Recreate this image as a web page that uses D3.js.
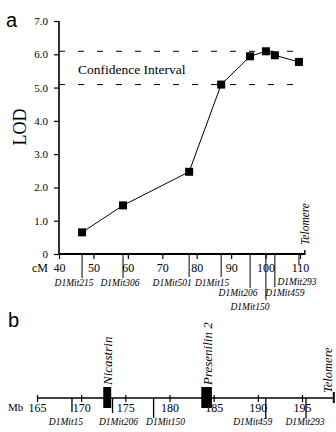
<!DOCTYPE html>
<html><head><meta charset="utf-8">
<script src="https://cdn.jsdelivr.net/npm/d3@7/dist/d3.min.js"></script>
<style>body{margin:0;background:#fff}svg{display:block}</style>
</head><body>
<script>
// ---- data ----
const lodMarkers = ["D1Mit215","D1Mit306","D1Mit501","D1Mit15","D1Mit206","D1Mit150","D1Mit459","D1Mit293"];
const lodCM = [46.7, 58.6, 77.8, 87.1, 95.5, 100.1, 102.7, 109.7];
const lodValues = [0.65, 1.46, 2.47, 5.09, 5.94, 6.09, 5.97, 5.77];
const cmTicks = [40, 50, 60, 70, 80, 90, 100, 110];
const lodTicks = [0, 1, 2, 3, 4, 5, 6, 7];
const confidenceBounds = [5.09, 6.09];
const telomereCM = 111.4;

const physMarkers = ["D1Mit15","D1Mit206","D1Mit150","D1Mit459","D1Mit293"];
const physMb = [168.96, 173.55, 178.2, 190.9, 195.45];
const genes = ["Nicastrin", "Presenilin 2"];
const geneStart = [172.5, 183.6];
const geneEnd = [173.4, 184.8];
const mbTicks = [165, 170, 175, 180, 185, 190, 195];
const telomereMb = 198.6;

// ---- layout (not data) ----
const topLabelLayout = [ // dx from line, label baseline, line end
  [-8, 286, 278], [-3, 286, 278], [-17, 286, 277], [-9, 286, 277],
  [-12, 296, 288], [-16, 310, 300], [10, 296, 287], [-2, 285, 265]
];
const botLabelLayout = [[-6, 425, 412], [6, 425, 413], [12, 425, 418], [-13, 425, 418], [-1, 425, 418]];

const serif = "'Liberation Serif', 'Times New Roman', serif";
const sans = "'Liberation Sans', Arial, sans-serif";

const svg = d3.select("body").append("svg").attr("width", 336).attr("height", 432);

// ===== Panel a =====
const x = d3.scaleLinear().domain([40, 110]).range([59, 300]);
const y = d3.scaleLinear().domain([0, 7]).range([254, 21]);

svg.append("text").attr("x", 6).attr("y", 27).attr("font-family", sans).attr("font-size", 20).text("a");

// y axis
const yAxis = d3.axisLeft(y).tickValues(lodTicks).tickSize(5).tickPadding(6)
  .tickFormat(d => d === 0 ? "0" : d3.format(".1f")(d));
const gy = svg.append("g").attr("transform", "translate(59,0)").call(yAxis);
gy.select(".domain").attr("stroke-width", 1.6).attr("d", `M0,${y(7)}V${y(0)}`);
gy.selectAll(".tick line").attr("stroke-width", 1.2);
gy.selectAll("text").attr("font-family", serif).attr("font-size", 11).attr("fill", "#000");

svg.append("text").attr("transform", `translate(26,${127}) rotate(-90)`)
  .attr("text-anchor", "middle").attr("font-family", serif).attr("font-size", 18).text("LOD");

// x axis
const xAxis = d3.axisBottom(x).tickValues(cmTicks).tickSize(5).tickPadding(4);
const gx = svg.append("g").attr("transform", `translate(0,${y(0)})`).call(xAxis);
gx.select(".domain").attr("stroke-width", 2).attr("d", `M${x(40)},0H${x(telomereCM)}`);
gx.selectAll(".tick line").attr("stroke-width", 1.2);
gx.selectAll("text").attr("font-family", serif).attr("font-size", 12).attr("fill", "#000");
svg.append("line").attr("x1", x(telomereCM)).attr("x2", x(telomereCM))
  .attr("y1", y(0) - 4).attr("y2", y(0) + 1).attr("stroke", "#000").attr("stroke-width", 1.5);
svg.append("text").attr("x", 48).attr("y", 272).attr("text-anchor", "end")
  .attr("font-family", serif).attr("font-size", 12).text("cM");

// confidence interval
svg.selectAll(".ci").data(confidenceBounds).enter().append("line")
  .attr("x1", x(40)).attr("x2", x(109.7) + 3)
  .attr("y1", d => y(d)).attr("y2", d => y(d))
  .attr("stroke", "#000").attr("stroke-width", 1).attr("stroke-dasharray", "6,13");
svg.append("text").attr("x", 78).attr("y", 74).attr("font-family", serif).attr("font-size", 13.5)
  .text("Confidence Interval");

// marker lines and labels
const topM = lodMarkers.map((m, i) => ({ name: m, cm: lodCM[i], lod: lodValues[i], lay: topLabelLayout[i] }));
svg.selectAll(".mline").data(topM).enter().append("line")
  .attr("x1", d => x(d.cm)).attr("x2", d => x(d.cm))
  .attr("y1", y(0)).attr("y2", d => d.lay[2])
  .attr("stroke", "#000").attr("stroke-width", 1);
svg.selectAll(".mlab").data(topM).enter().append("text")
  .attr("x", d => x(d.cm) + d.lay[0]).attr("y", d => d.lay[1])
  .attr("text-anchor", "middle").attr("font-family", serif).attr("font-style", "italic")
  .attr("font-size", 9.5).text(d => d.name);

// LOD curve
const line = d3.line().x(d => x(d.cm)).y(d => y(d.lod));
svg.append("path").datum(topM).attr("d", line).attr("fill", "none").attr("stroke", "#000").attr("stroke-width", 1);
svg.selectAll(".pt").data(topM).enter().append("rect")
  .attr("x", d => x(d.cm) - 4).attr("y", d => y(d.lod) - 4)
  .attr("width", 8).attr("height", 8).attr("fill", "#000");

svg.append("text").attr("transform", `translate(${x(telomereCM) + 4},245) rotate(-90)`)
  .attr("font-family", serif).attr("font-style", "italic").attr("font-size", 11.5).text("Telomere");

// ===== Panel b =====
const xb = d3.scaleLinear().domain([165, 195]).range([37, 302]);
const yb = 398;
svg.append("text").attr("x", 8).attr("y", 327).attr("font-family", sans).attr("font-size", 20).text("b");

const bAxis = d3.axisBottom(xb).tickValues(mbTicks).tickSize(4).tickPadding(1);
const gb = svg.append("g").attr("transform", `translate(0,${yb})`).call(bAxis);
gb.select(".domain").attr("stroke-width", 1.6).attr("d", `M${xb(165)},0H${xb(telomereMb)}`);
gb.selectAll(".tick line").attr("y1", -3).attr("stroke-width", 1.2);
gb.selectAll("text").attr("font-family", serif).attr("font-size", 12).attr("fill", "#000");
svg.append("text").attr("x", 8).attr("y", 411).attr("font-family", serif).attr("font-size", 11).text("Mb");
svg.append("line").attr("x1", xb(telomereMb)).attr("x2", xb(telomereMb))
  .attr("y1", yb - 6).attr("y2", yb + 5).attr("stroke", "#000").attr("stroke-width", 2);

const botM = physMarkers.map((m, i) => ({ name: m, mb: physMb[i], lay: botLabelLayout[i] }));
svg.selectAll(".bline").data(botM).enter().append("line")
  .attr("x1", d => xb(d.mb)).attr("x2", d => xb(d.mb))
  .attr("y1", yb).attr("y2", d => d.lay[2])
  .attr("stroke", "#000").attr("stroke-width", 1.3);
svg.selectAll(".blab").data(botM).enter().append("text")
  .attr("x", d => xb(d.mb) + d.lay[0]).attr("y", d => d.lay[1])
  .attr("text-anchor", "middle").attr("font-family", serif).attr("font-style", "italic")
  .attr("font-size", 9.5).text(d => d.name);

const gData = genes.map((g, i) => ({ name: g, s: geneStart[i], e: geneEnd[i] }));
svg.selectAll(".gene").data(gData).enter().append("rect")
  .attr("x", d => xb(d.s)).attr("width", d => xb(d.e) - xb(d.s))
  .attr("y", yb - 11).attr("height", 21).attr("fill", "#000");
svg.selectAll(".glab").data(gData).enter().append("text")
  .attr("transform", d => `translate(${(xb(d.s) + xb(d.e)) / 2 + 5},385) rotate(-90)`)
  .attr("font-family", serif).attr("font-style", "italic").attr("font-size", 13).text(d => d.name);

svg.append("text").attr("transform", `translate(${xb(telomereMb) - 2},393) rotate(-90)`)
  .attr("font-family", serif).attr("font-style", "italic").attr("font-size", 12.5).text("Telomere");
</script>
</body></html>
